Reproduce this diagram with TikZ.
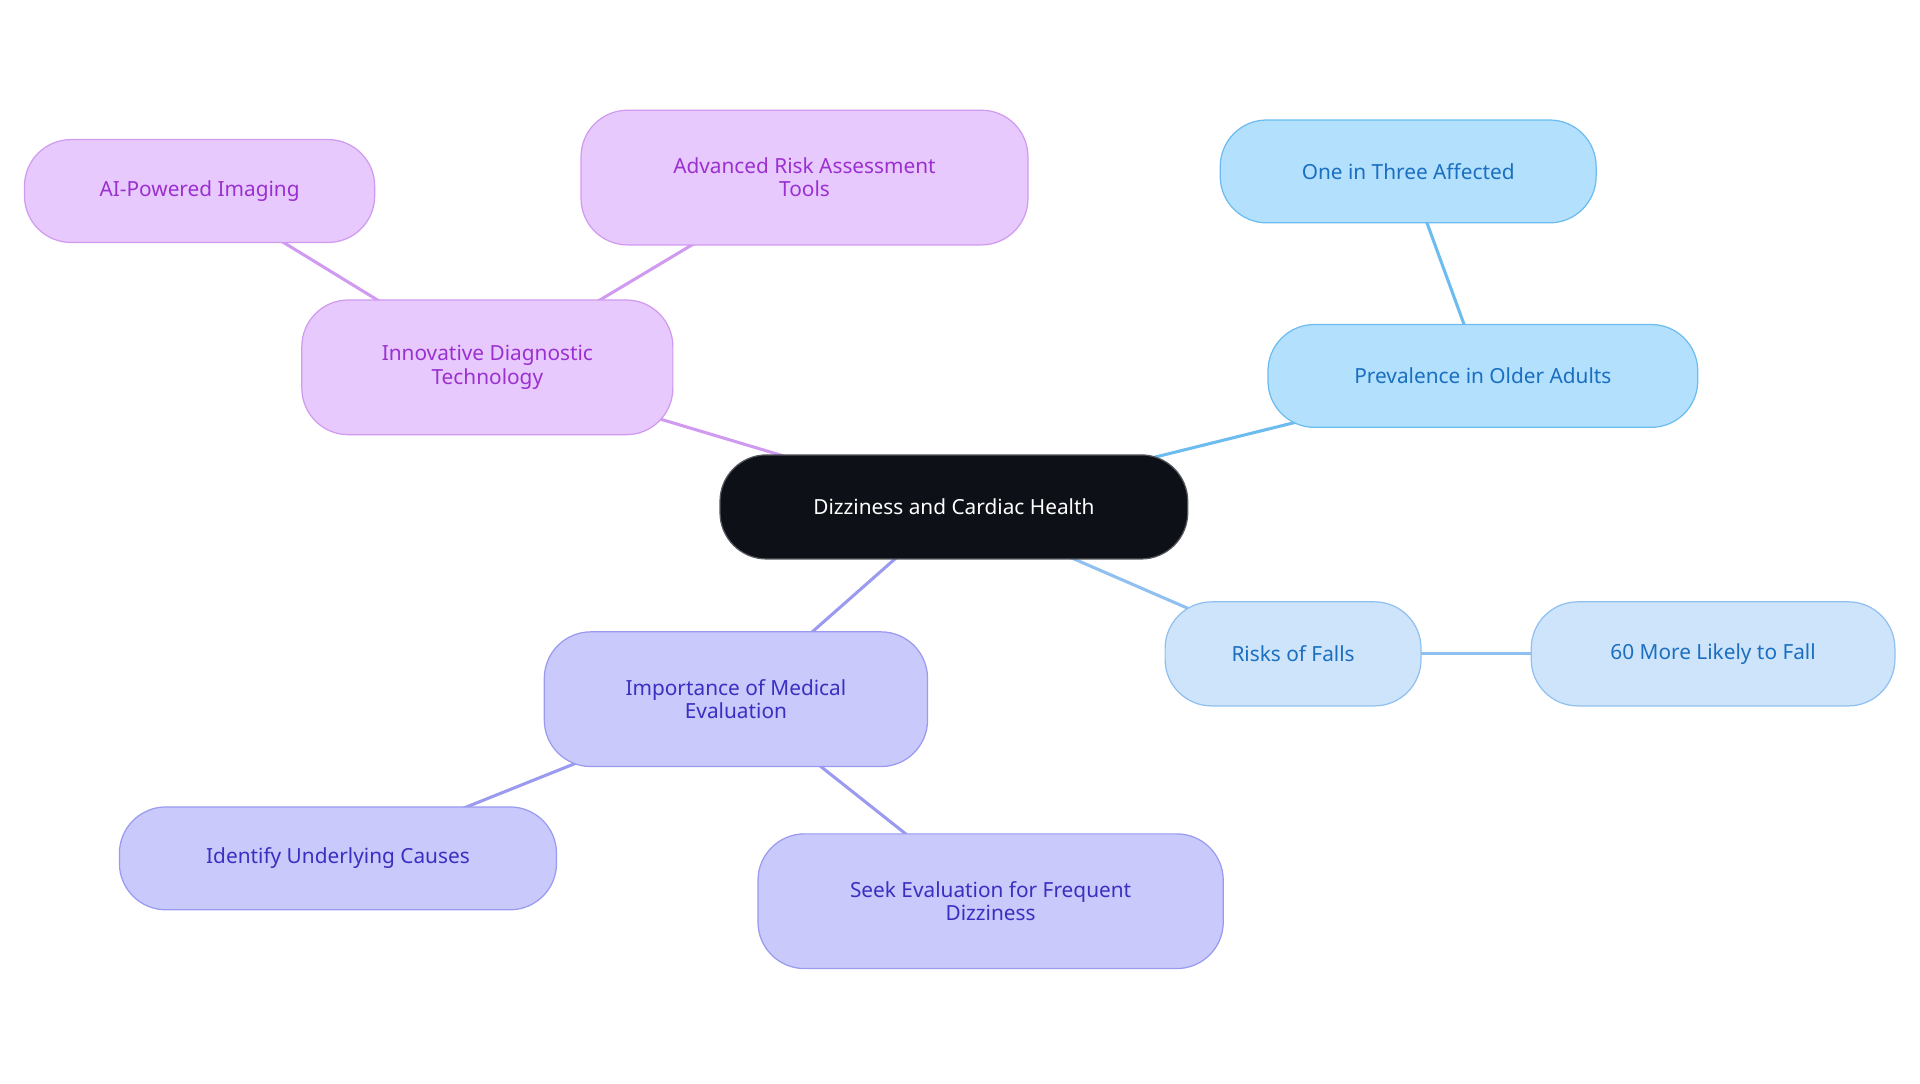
\documentclass[tikz,border=0pt]{standalone}
\usepackage{fontspec}
\setmainfont{Noto Sans}
\usetikzlibrary{backgrounds}
\definecolor{cblk}{HTML}{0D1117}
\definecolor{bfill}{HTML}{B3E0FD}\definecolor{bdraw}{HTML}{6CBCF0}\definecolor{btext}{HTML}{1A6FC0}
\definecolor{lfill}{HTML}{CDE4FB}\definecolor{ldraw}{HTML}{90C0F0}
\definecolor{ifill}{HTML}{C9C9FC}\definecolor{idraw}{HTML}{9A9AF0}\definecolor{itext}{HTML}{3A2FC0}
\definecolor{pfill}{HTML}{E8C9FD}\definecolor{pdraw}{HTML}{D09AF0}\definecolor{ptext}{HTML}{9A30D0}
\tikzset{
 box/.style={rounded corners=38pt,line width=1pt,align=center,font=\fontsize{17}{19}\selectfont,inner sep=0pt},
 bl/.style={box,fill=bfill,draw=bdraw,text=btext},
 lb/.style={box,fill=lfill,draw=ldraw,text=btext},
 vi/.style={box,fill=ifill,draw=idraw,text=itext},
 pu/.style={box,fill=pfill,draw=pdraw,text=ptext},
 ln/.style={line width=2.5pt}
}
\begin{document}
\begin{tikzpicture}[x=1pt,y=-1pt]
\useasboundingbox (0,0) rectangle (1568,885);
\node[box,fill=cblk,draw=cblk!70,text=white,minimum width=382pt,minimum height=85pt] (c) at (779,414) {Dizziness and Cardiac Health};
\node[bl,minimum width=351pt,minimum height=84pt] (p) at (1211,307) {Prevalence in Older Adults};
\node[bl,minimum width=307pt,minimum height=84pt] (o) at (1150,140) {One in Three Affected};
\node[lb,minimum width=209pt,minimum height=85pt] (r) at (1056,534) {Risks of Falls};
\node[lb,minimum width=297pt,minimum height=85pt] (s) at (1399,534) {60 More Likely to Fall};
\node[vi,minimum width=313pt,minimum height=110pt] (i) at (601,571) {Importance of Medical\\Evaluation};
\node[vi,minimum width=357pt,minimum height=84pt] (u) at (276,701) {Identify Underlying Causes};
\node[vi,minimum width=380pt,minimum height=110pt] (e) at (809,736) {Seek Evaluation for Frequent\\Dizziness};
\node[pu,minimum width=303pt,minimum height=110pt] (n) at (398,300) {Innovative Diagnostic\\Technology};
\node[pu,minimum width=286pt,minimum height=84pt] (a) at (163,156) {AI-Powered Imaging};
\node[pu,minimum width=365pt,minimum height=110pt] (d) at (657,145) {Advanced Risk Assessment\\Tools};
\begin{scope}[on background layer]
\draw[ln,bdraw] (c.center)--(p.center);
\draw[ln,bdraw] (p.center)--(o.center);
\draw[ln,ldraw] (c.center)--(r.center);
\draw[ln,ldraw] (r.center)--(s.center);
\draw[ln,idraw] (c.center)--(i.center);
\draw[ln,idraw] (i.center)--(u.center);
\draw[ln,idraw] (i.center)--(e.center);
\draw[ln,pdraw] (c.center)--(n.center);
\draw[ln,pdraw] (n.center)--(a.center);
\draw[ln,pdraw] (n.center)--(d.center);
\end{scope}
\end{tikzpicture}
\end{document}
